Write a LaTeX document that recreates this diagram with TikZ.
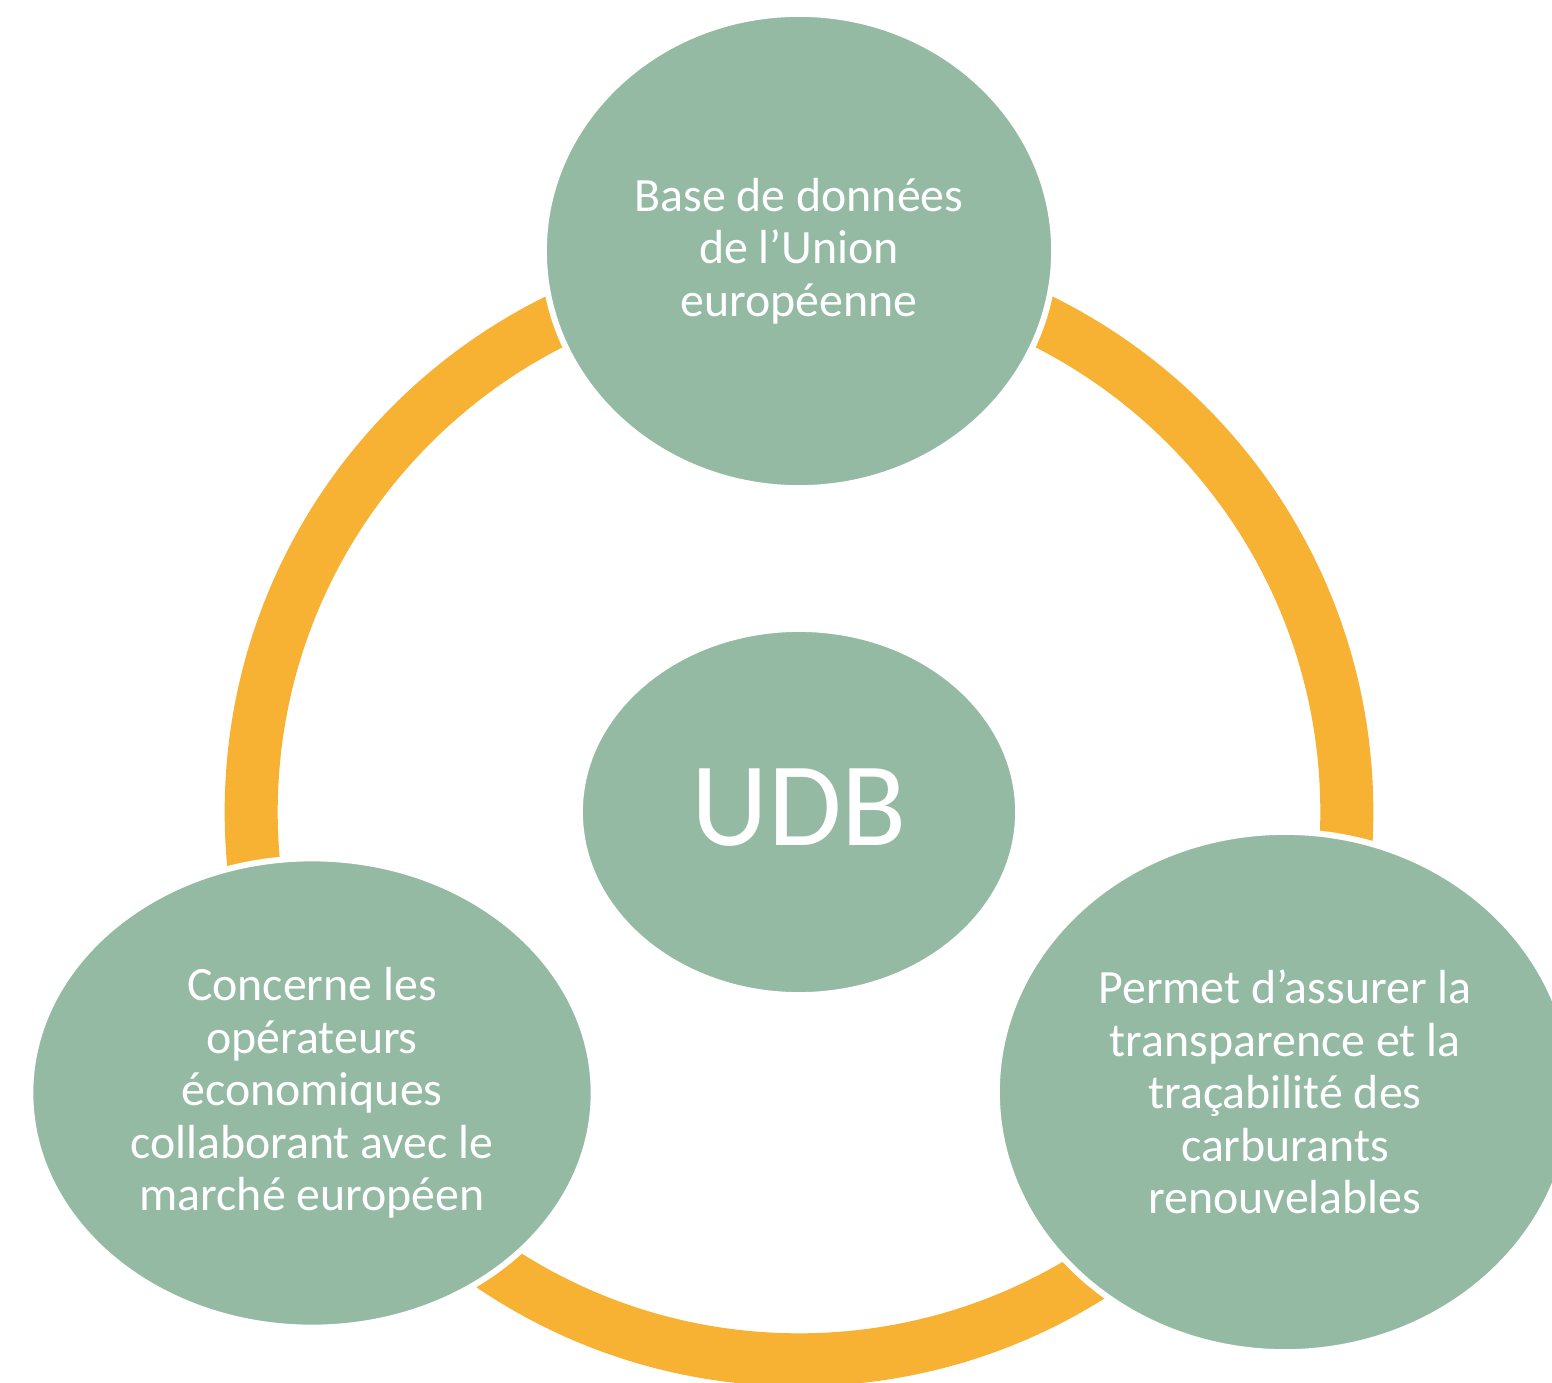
\documentclass[tikz,border=0pt]{standalone}
\usepackage{fontspec}
\setmainfont{Carlito}
\usetikzlibrary{shapes.geometric}
\definecolor{sage}{HTML}{94BAA4}
\definecolor{ringorange}{HTML}{F7B133}
\tikzset{
  bubble/.style={ellipse, fill=sage, draw=white, line width=0.06cm, inner sep=0pt,
    text=white, align=center, font=\fontsize{13.6}{14.9}\selectfont},
}
\begin{document}
\begin{tikzpicture}[x=0.01cm, y=-0.01cm]
\useasboundingbox (0,0) rectangle (1552,1382);
\clip (0,0) rectangle (1552,1382);
\coordinate (c) at (799,812);
\draw[ringorange, line width=0.53cm] (c) circle [radius=5.475cm];
\node[bubble, minimum width=5.10cm, minimum height=4.74cm] (top) at (799,251)
  {Base de données\\de l’Union\\européenne};
\node[bubble, minimum width=4.38cm, minimum height=3.66cm, font=\fontsize{34}{40}\selectfont] (udb) at (799,812) {\raisebox{0.1cm}{UDB}};
\node[bubble, minimum width=5.63cm, minimum height=4.69cm] (left) at (312,1093)
  {Concerne les\\opérateurs\\économiques\\collaborant avec le\\marché européen};
\node[bubble, minimum width=5.76cm, minimum height=5.20cm] (right) at (1285,1092)
  {Permet d’assurer la\\transparence et la\\traçabilité des\\carburants\\renouvelables};
\end{tikzpicture}
\end{document}
